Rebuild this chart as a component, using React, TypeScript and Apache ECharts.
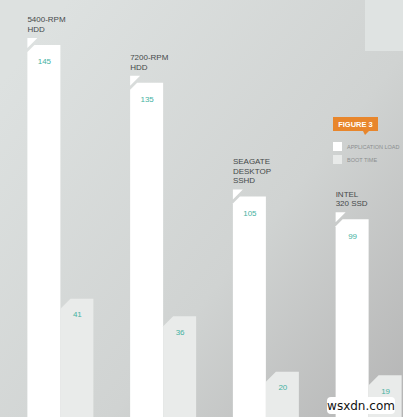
import { useEffect, useRef } from 'react';
import * as echarts from 'echarts';

const categories = ['5400-RPM\nHDD', '7200-RPM\nHDD', 'SEAGATE\nDESKTOP\nSSHD', 'INTEL\n320 SSD'];
const appLoad = [145, 135, 105, 99];
const bootTime = [41, 36, 20, 19];
const seriesNames = ['APPLICATION LOAD', 'BOOT TIME'];

const FONT = '"Liberation Sans", Arial, sans-serif';
const BAR_W = 33;
const TEAL = '#45b2a2';

export default function App() {
  const chartRef = useRef(null);

  useEffect(() => {
    const chart = echarts.init(chartRef.current, null, { renderer: 'svg' });

    const option = {
      animation: false,
      backgroundColor: {
        type: 'linear',
        x: 0,
        y: 0.2,
        x2: 1,
        y2: 1,
        colorStops: [
          { offset: 0, color: '#dde1e0' },
          { offset: 0.55, color: '#d0d3d2' },
          { offset: 1, color: '#b3b3b3' },
        ],
      },
      // chart is wider than the visible 403px: the last group runs past the edge
      grid: { left: 9, top: 0, right: 0, bottom: 0 },
      xAxis: { type: 'category', data: categories, show: false },
      yAxis: [
        { type: 'value', min: 45, max: 155, show: false },
        { type: 'value', min: 7, max: 127, show: false },
      ],
      legend: {
        left: 333,
        top: 142,
        padding: 0,
        orient: 'vertical',
        icon: 'rect',
        itemWidth: 9,
        itemHeight: 9,
        itemGap: 4,
        data: seriesNames,
        selectedMode: false,
        textStyle: { fontSize: 5.5, color: '#8b8e8f', fontFamily: FONT },
      },
      graphic: [
        { type: 'rect', shape: { x: 365, y: 0, width: 38, height: 51 }, style: { fill: '#dfe3e2' } },
        { type: 'rect', shape: { x: 333, y: 117, width: 45, height: 14 }, style: { fill: '#e8862c' } },
        { type: 'polygon', shape: { points: [[363, 131], [369, 131], [365, 135]] }, style: { fill: '#e8862c' } },
        {
          type: 'text',
          x: 355.5,
          y: 124,
          style: {
            text: 'FIGURE 3',
            fill: '#ffffff',
            fontSize: 7.5,
            fontWeight: 'bold',
            fontFamily: FONT,
            align: 'center',
            verticalAlign: 'middle',
          },
        },
        {
          type: 'rect',
          z: 100,
          shape: { x: 327, y: 397, width: 68, height: 17, r: 4 },
          style: { fill: '#ffffff' },
        },
        {
          type: 'text',
          z: 101,
          x: 361,
          y: 405.5,
          style: {
            text: 'wsxdn.com',
            fill: '#111111',
            fontSize: 12,
            fontFamily: '"DejaVu Sans", sans-serif',
            align: 'center',
            verticalAlign: 'middle',
          },
        },
      ],
      series: [
        {
          name: seriesNames[0],
          type: 'custom',
          itemStyle: { color: '#ffffff' },
          data: appLoad.map((v, i) => [i, v]),
          encode: { x: 0, y: 1 },
          renderItem: (params: any, api: any) => {
            const idx = api.value(0);
            const [cx, top] = api.coord([idx, api.value(1)]);
            const bottom = params.coordSys.y + params.coordSys.height;
            const x0 = cx - BAR_W;
            const x1 = cx;
            return {
              type: 'group',
              children: [
                {
                  type: 'polygon',
                  shape: { points: [[x0, top], [x0 + 10, top], [x0, top + 10]] },
                  style: { fill: '#ffffff' },
                },
                {
                  type: 'polygon',
                  shape: {
                    points: [[x0, top + 14], [x0 + 7, top + 7], [x1, top + 7], [x1, bottom], [x0, bottom]],
                  },
                  style: { fill: '#ffffff' },
                },
                {
                  type: 'text',
                  x: x0 + 17,
                  y: top + 24,
                  style: {
                    text: String(api.value(1)),
                    fill: TEAL,
                    fontSize: 8,
                    fontFamily: FONT,
                    align: 'center',
                    verticalAlign: 'middle',
                  },
                },
                {
                  type: 'text',
                  x: x0,
                  y: top - 4,
                  style: {
                    text: categories[idx],
                    fill: '#45494a',
                    fontSize: 8,
                    lineHeight: 9.5,
                    fontFamily: FONT,
                    align: 'left',
                    verticalAlign: 'bottom',
                  },
                },
              ],
            };
          },
        },
        {
          name: seriesNames[1],
          type: 'custom',
          yAxisIndex: 1,
          itemStyle: { color: '#e8eae9' },
          data: bootTime.map((v, i) => [i, v]),
          encode: { x: 0, y: 1 },
          renderItem: (params: any, api: any) => {
            const idx = api.value(0);
            const [cx, top] = api.coord([idx, api.value(1)]);
            const bottom = params.coordSys.y + params.coordSys.height;
            const x0 = cx;
            const x1 = cx + BAR_W;
            return {
              type: 'group',
              children: [
                {
                  type: 'polygon',
                  shape: { points: [[x0, top + 10], [x0 + 10, top], [x1, top], [x1, bottom], [x0, bottom]] },
                  style: { fill: '#e9ebea' },
                },
                {
                  type: 'text',
                  x: x0 + 17,
                  y: top + 16,
                  style: {
                    text: String(api.value(1)),
                    fill: TEAL,
                    fontSize: 8,
                    fontFamily: FONT,
                    align: 'center',
                    verticalAlign: 'middle',
                  },
                },
              ],
            };
          },
        },
      ],
    };

    chart.setOption(option);
    return () => {
      chart.dispose();
    };
  }, []);

  return (
    <div style={{ position: 'absolute', left: 0, top: 0, width: '403px', height: '417px', overflow: 'hidden' }}>
      <div ref={chartRef} style={{ width: '420px', height: '417px' }} />
    </div>
  );
}
